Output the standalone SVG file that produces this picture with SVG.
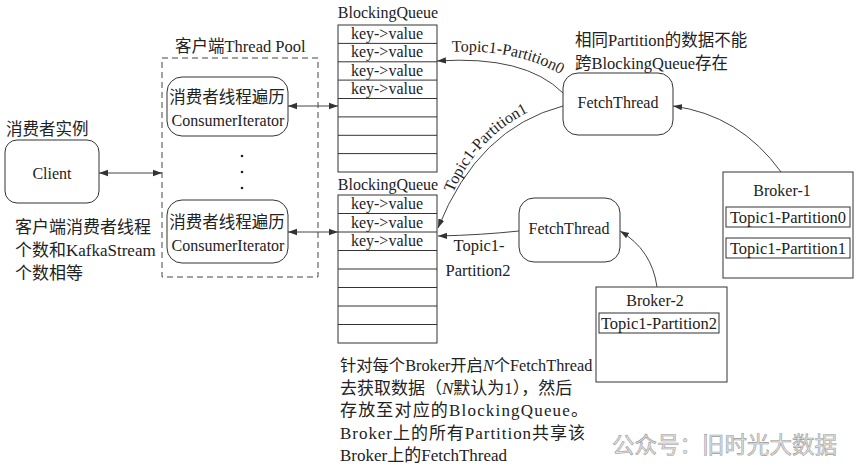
<svg xmlns="http://www.w3.org/2000/svg" width="857" height="471" viewBox="0 0 857 471">
<defs>
<marker id="ah" viewBox="0 0 10 10" refX="10" refY="5" markerWidth="9" markerHeight="9" markerUnits="userSpaceOnUse" orient="auto-start-reverse">
<path d="M0,1.5 L10,5 L0,8.5 Z" fill="#333"/>
</marker>
<path id="tp0" d="M 450 52 Q 522 48 570 80"/>
<path id="tp1" d="M 448 206 Q 476 126 558 100"/>
<style>
text{font-family:"Liberation Serif","Noto Sans CJK SC",serif;fill:#222}
.box{fill:#fff;stroke:#333;stroke-width:1}
.q{fill:#fff;stroke:#333;stroke-width:1}
.ln{fill:none;stroke:#333;stroke-width:1}
.c{text-anchor:middle}
.conn path,.conn line{fill:none;stroke:#444;stroke-width:1}
</style>
</defs>
<rect width="857" height="471" fill="#fff"/>

<g id="client">
<text x="6" y="135" font-size="16.5">消费者实例</text>
<rect class="box" x="5" y="140" width="94" height="63" rx="12"/>
<text x="52" y="179" font-size="16" class="c">Client</text>
<text x="15" y="233" font-size="17">客户端消费者线程</text>
<text x="15" y="256" font-size="17">个数和KafkaStream</text>
<text x="15" y="279" font-size="17">个数相等</text>
</g>

<g id="thread-pool">
<text x="175" y="52" font-size="16.5">客户端Thread Pool</text>
<rect x="162" y="58" width="156" height="219" fill="none" stroke="#444" stroke-width="1" stroke-dasharray="6,4"/>
<circle cx="242" cy="156" r="1.3" fill="#222"/>
<circle cx="242" cy="172" r="1.3" fill="#222"/>
<circle cx="242" cy="188" r="1.3" fill="#222"/>
</g>

<g id="iterator-1">
<rect class="box" x="167" y="77" width="121" height="59" rx="15"/>
<text x="227" y="103" font-size="16.5" class="c">消费者线程遍历</text>
<text x="228" y="126" font-size="16" class="c">ConsumerIterator</text>
</g>

<g id="iterator-2">
<rect class="box" x="167" y="200" width="121" height="63" rx="15"/>
<text x="227" y="228" font-size="16.5" class="c">消费者线程遍历</text>
<text x="228" y="251" font-size="16" class="c">ConsumerIterator</text>
</g>

<g id="queue-1">
<text x="388" y="18" font-size="16" class="c">BlockingQueue</text>
<rect class="q" x="338" y="25" width="99" height="147"/>
<path class="ln" d="M338 43.4H437M338 61.8H437M338 80.1H437M338 98.5H437M338 116.9H437M338 135.3H437M338 153.6H437"/>
<text x="387" y="39" font-size="16" class="c">key-&gt;value</text>
<text x="387" y="57" font-size="16" class="c">key-&gt;value</text>
<text x="387" y="76" font-size="16" class="c">key-&gt;value</text>
<text x="387" y="94" font-size="16" class="c">key-&gt;value</text>
</g>

<g id="queue-2">
<text x="388" y="190" font-size="16" class="c">BlockingQueue</text>
<rect class="q" x="338" y="195" width="99" height="148"/>
<path class="ln" d="M338 213.5H437M338 232H437M338 250.5H437M338 269H437M338 287.5H437M338 306H437M338 324.5H437"/>
<text x="387" y="209" font-size="16" class="c">key-&gt;value</text>
<text x="387" y="228" font-size="16" class="c">key-&gt;value</text>
<text x="387" y="246" font-size="16" class="c">key-&gt;value</text>
</g>

<g id="fetch-1">
<text x="575" y="46" font-size="16.5">相同Partition的数据不能</text>
<text x="575" y="69" font-size="16.5">跨BlockingQueue存在</text>
<rect class="box" x="563" y="73" width="110" height="62" rx="15"/>
<text x="618" y="108" font-size="16" class="c">FetchThread</text>
</g>

<g id="fetch-2">
<rect class="box" x="519" y="198" width="101" height="64" rx="15"/>
<text x="569" y="234" font-size="16" class="c">FetchThread</text>
</g>

<g id="broker-1">
<rect class="box" x="723" y="172" width="130" height="106"/>
<text x="782" y="196" font-size="16" class="c">Broker-1</text>
<rect class="box" x="726" y="207" width="124" height="20"/>
<text x="788" y="223" font-size="16.5" class="c">Topic1-Partition0</text>
<rect class="box" x="726" y="238" width="124" height="20"/>
<text x="788" y="254" font-size="16.5" class="c">Topic1-Partition1</text>
</g>

<g id="broker-2">
<rect class="box" x="596" y="287" width="131" height="95"/>
<text x="655" y="306" font-size="16" class="c">Broker-2</text>
<rect class="box" x="599" y="313" width="120" height="20"/>
<text x="659" y="329" font-size="16.5" class="c">Topic1-Partition2</text>
</g>

<g id="connectors" class="conn">
<line x1="99" y1="173" x2="162" y2="173" marker-start="url(#ah)" marker-end="url(#ah)"/>
<line x1="288" y1="106" x2="338" y2="106" marker-start="url(#ah)" marker-end="url(#ah)"/>
<line x1="288" y1="232" x2="338" y2="232" marker-start="url(#ah)" marker-end="url(#ah)"/>
<path d="M 563 93 Q 525 55 437 61" marker-end="url(#ah)"/>
<path d="M 563 106 Q 478 128 438 228" marker-end="url(#ah)"/>
<path d="M 519 231 Q 482 235 438 236" marker-end="url(#ah)"/>
<path d="M 781 172 Q 740 115 673 106" marker-end="url(#ah)"/>
<path d="M 657 287 Q 652 250 620 231" marker-end="url(#ah)"/>
</g>

<g id="connector-labels">
<text font-size="16"><textPath href="#tp0" startOffset="2">Topic1-Partition0</textPath></text>
<text font-size="16"><textPath href="#tp1" startOffset="14">Topic1-Partition1</textPath></text>
<text x="479" y="251" font-size="16.5" class="c">Topic1-</text>
<text x="478" y="276" font-size="16.5" class="c">Partition2</text>
</g>

<g id="note">
<text x="340" y="371" font-size="16.3">针对每个Broker开启<tspan font-style="italic">N</tspan>个FetchThread</text>
<text x="340" y="394" font-size="17">去获取数据（<tspan font-style="italic">N</tspan>默认为1），然后</text>
<text x="340" y="416" font-size="17" textLength="248" lengthAdjust="spacing">存放至对应的BlockingQueue。</text>
<text x="340" y="439" font-size="17" textLength="245" lengthAdjust="spacing">Broker上的所有Partition共享该</text>
<text x="340" y="461" font-size="17">Broker上的FetchThread</text>
</g>

<text x="612" y="453" font-size="22.5" style="font-family:'Noto Sans CJK SC',sans-serif;fill:#e6e6e6;stroke:#9a9a9a;stroke-width:0.6">公众号：旧时光大数据</text>
</svg>
